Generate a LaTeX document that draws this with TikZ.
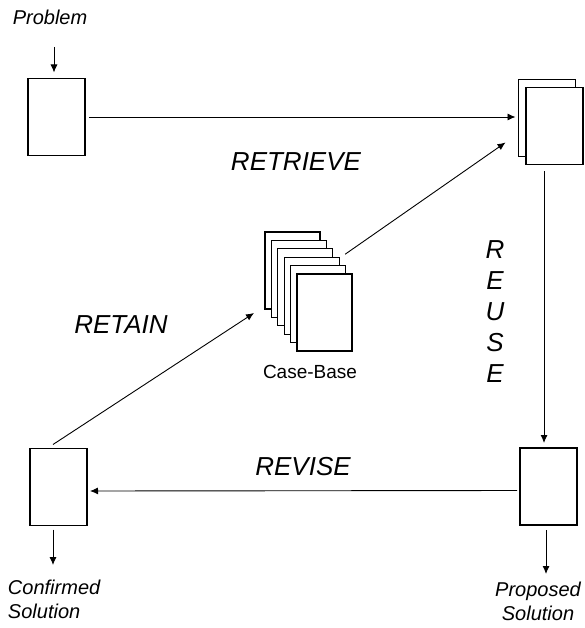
\documentclass[tikz,border=0pt]{standalone}
\usepackage{fontspec}
\setmainfont{Liberation Sans}
\usetikzlibrary{arrows.meta}
\usetikzlibrary{positioning}

\begin{document}
\begin{tikzpicture}
	[x=1pt,y=-1pt,
	 every node/.style={inner sep=0pt,outer sep=0pt},
	 box/.style={draw,line width=1.1pt,fill=white,minimum width=57pt,minimum height=77pt},
	 page/.style={box,minimum width=55pt},
	 lbl/.style={font=\fontsize{20}{24}\selectfont\itshape},
	 phase/.style={font=\fontsize{26}{31}\selectfont\itshape},
	 link/.style={line width=0.9pt,-{Latex[length=8pt,width=7pt]}}]
	\useasboundingbox (0,0) rectangle (584,628);
	% cases
	\node[box] (prob) at (56.5,117) {};
	\node[box] (retb) at (547,118) {};
	\node[box] (retf) at (554.5,126) {};
	\node[box] (prop) at (548.5,486.5) {};
	\node[box] (conf) at (58.5,487) {};
	\foreach \i in {0,...,5}
		\node[page] (cb\i) at (292.5+6.4*\i,270.5+8.4*\i) {};
	% texts
	\node[lbl] (problem) at (50,17) {Problem};
	\node[lbl,anchor=west,align=left] (confirmed) at (8,599) {Confirmed\\Solution};
	\node[lbl,align=center] (proposed) at (538,601) {Proposed\\Solution};
	\node[font=\fontsize{19}{22}\selectfont] (cblabel) at (310,372) {Case-Base};
	\node[phase] (retrieve) at (296,162) {RETRIEVE};
	\node[phase] (retain) at (121,325) {RETAIN};
	\node[phase] (revise) at (303,467) {REVISE};
	\node[phase,align=center] (reuse) at (495,312) {R\\E\\U\\S\\E};
	% free ends
	\coordinate (probin) at (54,47);
	\coordinate (confout) at (53,565);
	\coordinate (propout) at (546,574);
	% connectors
	\draw[link,shorten >=6pt] (probin) -- (probin |- prob.north);
	\draw[link,shorten <=4pt,shorten >=3pt] (prob.east) -- (prob.east -| retb.west);
	\draw[link] ([xshift=-10.5pt,yshift=-7pt]retf.south) -- ([xshift=-4.5pt,yshift=5pt]prop.north);
	\draw[link,shorten <=3pt,shorten >=3pt] ([yshift=-4pt]prop.west) -- ([yshift=-4pt]conf.east);
	\draw[link] ([xshift=-5.5pt,yshift=4pt]conf.north) -- ([xshift=-11pt,yshift=-4pt]cb0.south west);
	\draw[link] ([xshift=6pt,yshift=3pt]cb3.north east) -- ([xshift=-13pt,yshift=14pt]retb.south west);
	\draw[link,shorten <=4pt] (confout |- conf.south) -- (confout);
	\draw[link,shorten <=5pt] (propout |- prop.south) -- (propout);
\end{tikzpicture}
\end{document}
